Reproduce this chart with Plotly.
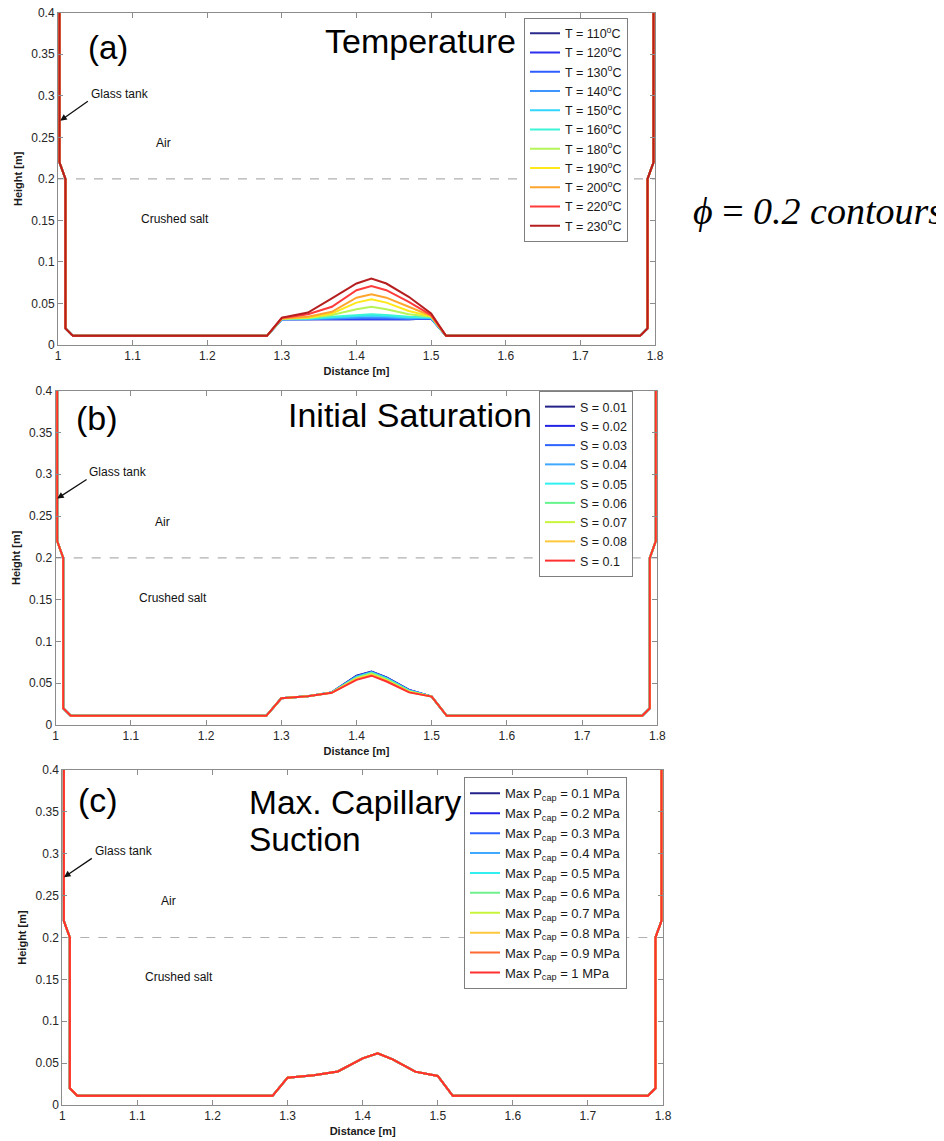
import plotly.graph_objects as go

# ---------------- data ----------------
# shared contour geometry (phi = 0.2 iso-line): left wall, mound nodes, right wall
left_x = [1.002, 1.002, 1.01, 1.01, 1.02, 1.28]
left_y = [0.4, 0.22, 0.2, 0.02, 0.011, 0.011]
mound_x = [1.30, 1.335, 1.367, 1.40, 1.42, 1.44, 1.47, 1.50]
right_x = [1.52, 1.78, 1.79, 1.79, 1.798, 1.798]
right_y = [0.011, 0.011, 0.02, 0.2, 0.22, 0.4]
interface_y = 0.2

# (a) Temperature
temp_labels = ["110", "120", "130", "140", "150", "160", "180", "190", "200", "220", "230"]
temp_mound = [
    [0.031, 0.031, 0.031, 0.031, 0.031, 0.031, 0.031, 0.032],
    [0.031, 0.031, 0.031, 0.0312, 0.0315, 0.0312, 0.031, 0.032],
    [0.031, 0.031, 0.0313, 0.0318, 0.032, 0.0318, 0.0313, 0.032],
    [0.031, 0.031, 0.032, 0.033, 0.0335, 0.033, 0.032, 0.0325],
    [0.031, 0.0315, 0.033, 0.0345, 0.0355, 0.0345, 0.033, 0.033],
    [0.0315, 0.032, 0.034, 0.036, 0.037, 0.036, 0.034, 0.033],
    [0.0315, 0.0325, 0.036, 0.043, 0.046, 0.043, 0.037, 0.034],
    [0.032, 0.033, 0.038, 0.051, 0.055, 0.051, 0.041, 0.0345],
    [0.032, 0.034, 0.040, 0.057, 0.061, 0.057, 0.046, 0.035],
    [0.0325, 0.037, 0.046, 0.066, 0.071, 0.066, 0.052, 0.036],
    [0.033, 0.039, 0.056, 0.074, 0.080, 0.074, 0.058, 0.038],
]
temp_colors = ["#2a2a8c", "#2e2ef0", "#2f5cff", "#3d95ff", "#33d6ff", "#3cf5d6",
               "#b5f55a", "#ffe81a", "#ffa52e", "#ff3b3b", "#b51f1f"]

# (b) Initial saturation
sat_labels = ["0.01", "0.02", "0.03", "0.04", "0.05", "0.06", "0.07", "0.08", "0.1"]
sat_mound = [
    [0.032, 0.0345, 0.039, 0.059, 0.064, 0.057, 0.042, 0.034],
    [0.032, 0.0345, 0.039, 0.0585, 0.0637, 0.0567, 0.0418, 0.034],
    [0.032, 0.0345, 0.039, 0.058, 0.0633, 0.0563, 0.0415, 0.034],
    [0.032, 0.0345, 0.039, 0.0577, 0.063, 0.056, 0.0412, 0.034],
    [0.032, 0.0345, 0.0388, 0.057, 0.0625, 0.0553, 0.041, 0.034],
    [0.032, 0.0345, 0.0388, 0.0565, 0.062, 0.0547, 0.0405, 0.034],
    [0.032, 0.0345, 0.0387, 0.0558, 0.061, 0.054, 0.040, 0.034],
    [0.032, 0.0345, 0.0386, 0.055, 0.060, 0.053, 0.0395, 0.034],
    [0.032, 0.0345, 0.0385, 0.054, 0.059, 0.052, 0.039, 0.034],
]
sat_colors = ["#22228a", "#2323e6", "#2d63ff", "#40a8ff", "#33f0f0", "#66f58c",
              "#c8f53a", "#ffc83c", "#ff3030"]

# (c) Max capillary suction
cap_labels = ["0.1", "0.2", "0.3", "0.4", "0.5", "0.6", "0.7", "0.8", "0.9", "1"]
cap_mound = [
    [0.0326, 0.0356, 0.040, 0.0557, 0.0617, 0.0545, 0.0398, 0.0346],
    [0.0326, 0.0356, 0.040, 0.0557, 0.0617, 0.0545, 0.0398, 0.0346],
    [0.0326, 0.0356, 0.040, 0.0557, 0.0617, 0.0545, 0.0398, 0.0346],
    [0.0326, 0.0356, 0.040, 0.0557, 0.0617, 0.0545, 0.0398, 0.0346],
    [0.0326, 0.0356, 0.040, 0.0557, 0.0617, 0.0545, 0.0398, 0.0346],
    [0.0326, 0.0356, 0.040, 0.0557, 0.0617, 0.0545, 0.0398, 0.0346],
    [0.0326, 0.0356, 0.040, 0.0557, 0.0617, 0.0545, 0.0398, 0.0346],
    [0.0326, 0.0356, 0.040, 0.0557, 0.0617, 0.0545, 0.0398, 0.0346],
    [0.0326, 0.0356, 0.040, 0.0557, 0.0617, 0.0545, 0.0398, 0.0346],
    [0.0326, 0.0356, 0.040, 0.0557, 0.0617, 0.0545, 0.0398, 0.0346],
]
cap_colors = ["#22228a", "#2323e6", "#2d63ff", "#40a8ff", "#33f0f0", "#70f08c",
              "#c8f53a", "#ffc83c", "#ff6a33", "#ff3030"]

x_ticks = [1, 1.1, 1.2, 1.3, 1.4, 1.5, 1.6, 1.7, 1.8]
y_ticks = [0, 0.05, 0.1, 0.15, 0.2, 0.25, 0.3, 0.35, 0.4]

# ---------------- figure ----------------
W, H = 944, 1141
OFF = 8  # page body margin offset (px)
FONT = "Arial, Liberation Sans, sans-serif"

fig = go.Figure()

panels = [
    dict(labels=temp_labels, mounds=temp_mound, colors=temp_colors,
         fmt=lambda s: f"T = {s}<sup>o</sup>C", legend="legend", ax="x", ay="y"),
    dict(labels=sat_labels, mounds=sat_mound, colors=sat_colors,
         fmt=lambda s: f"S = {s}", legend="legend2", ax="x2", ay="y2"),
    dict(labels=cap_labels, mounds=cap_mound, colors=cap_colors,
         fmt=lambda s: f"Max P<sub>cap</sub> = {s} MPa", legend="legend3", ax="x3", ay="y3"),
]

for p in panels:
    for lab, m, c in zip(p["labels"], p["mounds"], p["colors"]):
        fig.add_trace(go.Scatter(
            x=left_x + mound_x + right_x,
            y=left_y + m + right_y,
            mode="lines", line=dict(color=c, width=2),
            name=p["fmt"](lab), legend=p["legend"],
            xaxis=p["ax"], yaxis=p["ay"],
        ))

# pixel-based layout helpers (target pixel positions in the screenshot)
def px(x):
    return (x - OFF) / W

def py(y):
    return 1 - (y - OFF) / H

doms = [
    ([px(58), px(655)], [py(345), py(12.7)]),
    ([px(55.7), px(657.3)], [py(725), py(390.7)]),
    ([px(62.3), px(663)], [py(1105), py(770)]),
]

axis_common = dict(
    showline=True, linecolor="#8c8c8c", linewidth=1, mirror="ticks",
    ticks="inside", ticklen=5, tickcolor="#8c8c8c", showgrid=False,
    zeroline=False, automargin=False, ticklabeloverflow="allow",
    tickfont=dict(family=FONT, size=12, color="#262626"),
)

layout = dict(
    width=W, height=H, margin=dict(l=0, r=0, t=0, b=0, pad=0, autoexpand=False),
    paper_bgcolor="white", plot_bgcolor="white",
    font=dict(family=FONT, color="#1a1a1a"),
)
for i, (xd, yd) in enumerate(doms):
    sx = "" if i == 0 else str(i + 1)
    layout["xaxis" + sx] = dict(
        axis_common, domain=xd, range=[1, 1.8], tickvals=x_ticks,
        anchor="y" + sx,
        title=dict(text="<b>Distance [m]</b>", font=dict(family=FONT, size=11, color="#1a1a1a"), standoff=4),
    )
    layout["yaxis" + sx] = dict(
        axis_common, domain=yd, range=[0, 0.4], tickvals=y_ticks,
        anchor="x" + sx,
        title=dict(text="<b>Height [m]</b>", font=dict(family=FONT, size=11, color="#1a1a1a"), standoff=6),
    )

legend_common = dict(
    bgcolor="white", bordercolor="#7f7f7f", borderwidth=1,
    xanchor="left", yanchor="top", tracegroupgap=0,
)
layout["legend"] = dict(legend_common, x=px(524), y=py(17.7),
                        font=dict(family=FONT, size=12.5, color="#1a1a1a"))
layout["legend2"] = dict(legend_common, x=px(539), y=py(391),
                         font=dict(family=FONT, size=12.5, color="#1a1a1a"))
layout["legend3"] = dict(legend_common, x=px(464), y=py(777.4),
                         font=dict(family=FONT, size=13, color="#1a1a1a"))

fig.update_layout(**layout)

# dashed air / crushed-salt interface
for i in range(3):
    sx = "" if i == 0 else str(i + 1)
    fig.add_shape(type="line", xref=f"x{sx} domain", yref=f"y{sx}",
                  x0=0, x1=1, y0=interface_y, y1=interface_y,
                  line=dict(color="#b0b0b0", width=1.2, dash="dash"), layer="below")

ann = []
def txt(text, x, y, ref, size, xanchor="center", family=FONT, color="#111111"):
    ann.append(dict(text=text, x=x, y=y, xref="x" + ref, yref="y" + ref,
                    showarrow=False, xanchor=xanchor, yanchor="middle",
                    font=dict(family=family, size=size, color=color)))

def arrow(hx, hy, tx, ty, ref):
    ann.append(dict(text="", x=hx, y=hy, ax=tx, ay=ty, xref="x" + ref, yref="y" + ref,
                    axref="x" + ref, ayref="y" + ref, showarrow=True,
                    arrowhead=2, arrowsize=1, arrowwidth=1.3, arrowcolor="#111111"))

BIG = 34
# panel (a)
txt("(a)", 1.067, 0.3587, "", 33, color="#000000")
txt("Temperature", 1.4859, 0.366, "", BIG, color="#000000")
txt("Glass tank", 1.083, 0.302, "", 12)
arrow(1.003, 0.27, 1.042, 0.2946, "")
txt("Air", 1.142, 0.243, "", 12)
txt("Crushed salt", 1.157, 0.152, "", 12)
# panel (b)
txt("(b)", 1.0555, 0.367, "2", BIG, color="#000000")
txt("Initial Saturation", 1.4718, 0.371, "2", BIG, color="#000000")
txt("Glass tank", 1.0825, 0.303, "2", 12)
arrow(1.002, 0.271, 1.0431, 0.295, "2")
txt("Air", 1.1415, 0.243, "2", 12)
txt("Crushed salt", 1.156, 0.152, "2", 12)
# panel (c)
txt("(c)", 1.047, 0.364, "3", BIG, color="#000000")
txt("Max. Capillary", 1.2457, 0.3612, "3", 33.5, xanchor="left", color="#000000")
txt("Suction", 1.2457, 0.317, "3", 33.5, xanchor="left", color="#000000")
txt("Glass tank", 1.082, 0.303, "3", 12)
arrow(1.0023, 0.272, 1.0413, 0.2957, "3")
txt("Air", 1.1415, 0.2436, "3", 12)
txt("Crushed salt", 1.156, 0.153, "3", 12)

ann.append(dict(text="<i>ϕ</i> = <i>0.2 contours</i>", x=px(818), y=py(211),
                xref="paper", yref="paper", showarrow=False,
                xanchor="center", yanchor="middle",
                font=dict(family="Liberation Serif, Times New Roman, serif", size=38, color="#000000")))

fig.update_layout(annotations=ann)

fig.write_html("out.html")
